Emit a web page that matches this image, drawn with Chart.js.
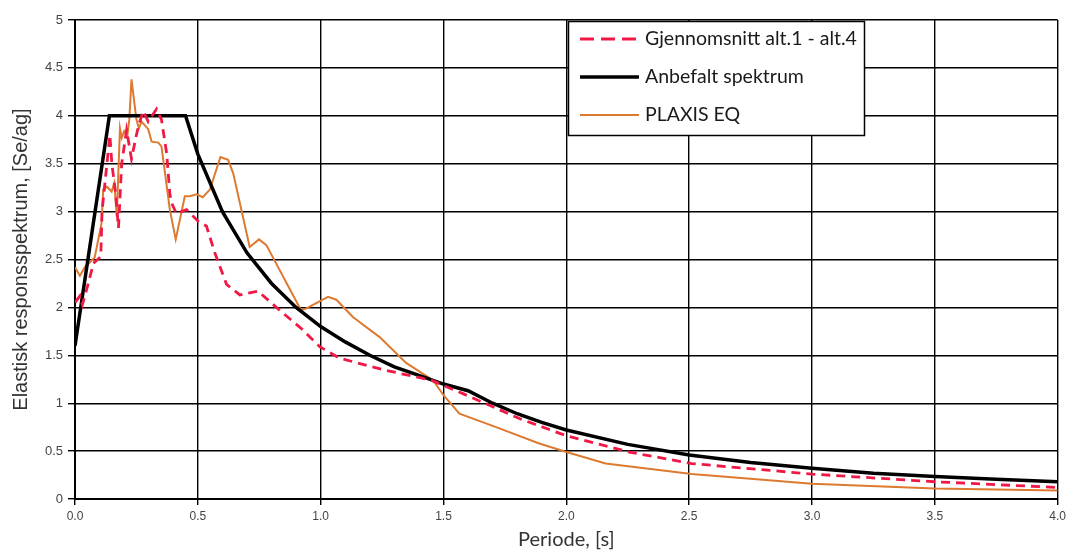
<!DOCTYPE html>
<html>
<head>
<meta charset="utf-8">
<script src="https://cdn.jsdelivr.net/npm/chart.js@4.4.1/dist/chart.umd.min.js"></script>
<style>
  html, body { margin: 0; padding: 0; background: #fff; }
  #wrap { width: 1070px; height: 552px; position: relative; }
</style>
</head>
<body>
<div id="wrap"><canvas id="myChart"></canvas></div>
<script>
// series labels
const seriesNames = ['Gjennomsnitt alt.1 - alt.4', 'Anbefalt spektrum', 'PLAXIS EQ'];

// Gjennomsnitt alt.1 - alt.4 (red dashed)
const periodAvg = [0, 0.02, 0.03, 0.054, 0.075, 0.105, 0.11, 0.142, 0.15, 0.165, 0.177, 0.19, 0.21, 0.23, 0.25, 0.26, 0.278, 0.298, 0.332, 0.352, 0.373, 0.386, 0.393, 0.413, 0.454, 0.501, 0.535, 0.569, 0.617, 0.671, 0.745, 0.833, 0.921, 0.996, 1.077, 1.253, 1.45, 1.579, 1.809, 2.0, 2.256, 2.51, 3.0, 3.5, 4.0];
const avgValues = [2.05, 2.12, 2.03, 2.25, 2.46, 2.53, 3.0, 3.8, 3.5, 3.2, 2.83, 3.5, 3.85, 3.55, 3.8, 3.91, 4.05, 3.94, 4.07, 3.96, 3.61, 3.19, 3.09, 2.98, 3.02, 2.9, 2.85, 2.57, 2.24, 2.13, 2.17, 1.97, 1.78, 1.59, 1.47, 1.35, 1.24, 1.1, 0.84, 0.66, 0.49, 0.37, 0.26, 0.18, 0.12];

// Anbefalt spektrum (black)
const periodRec = [0, 0.14, 0.45, 0.5, 0.6, 0.7, 0.8, 0.9, 1.0, 1.1, 1.2, 1.3, 1.4, 1.5, 1.6, 1.7, 1.8, 1.9, 2.0, 2.25, 2.5, 2.75, 3.0, 3.25, 3.5, 3.75, 4.0];
const recValues = [1.6, 4.0, 4.0, 3.6, 3.0, 2.57, 2.25, 2.0, 1.8, 1.64, 1.5, 1.38, 1.29, 1.2, 1.13, 1.0, 0.89, 0.8, 0.72, 0.57, 0.46, 0.38, 0.32, 0.27, 0.235, 0.205, 0.18];

// PLAXIS EQ (orange)
const periodPlaxis = [0, 0.02, 0.04, 0.08, 0.108, 0.115, 0.13, 0.149, 0.16, 0.17, 0.183, 0.19, 0.2, 0.213, 0.221, 0.23, 0.25, 0.26, 0.271, 0.298, 0.312, 0.339, 0.352, 0.386, 0.41, 0.447, 0.467, 0.495, 0.52, 0.549, 0.592, 0.623, 0.644, 0.711, 0.749, 0.779, 0.92, 0.942, 1.03, 1.064, 1.131, 1.24, 1.348, 1.457, 1.504, 1.565, 1.714, 1.89, 2.0, 2.16, 2.51, 3.0, 3.5, 4.0];
const plaxisValues = [2.42, 2.33, 2.42, 2.52, 2.88, 3.23, 3.26, 3.21, 3.3, 2.95, 3.87, 3.77, 3.84, 3.79, 3.96, 4.38, 3.96, 3.87, 3.94, 3.86, 3.73, 3.72, 3.68, 3.02, 2.71, 3.16, 3.16, 3.18, 3.15, 3.23, 3.57, 3.54, 3.4, 2.63, 2.71, 2.65, 1.97, 1.99, 2.11, 2.08, 1.9, 1.69, 1.42, 1.24, 1.07, 0.89, 0.75, 0.58, 0.49, 0.37, 0.26, 0.16, 0.11, 0.09];

// tick labels
const xTickLabels = ['0.0', '0.5', '1.0', '1.5', '2.0', '2.5', '3.0', '3.5', '4.0'];
const yTickLabels = ['0', '0.5', '1', '1.5', '2', '2.5', '3', '3.5', '4', '4.5', '5'];

function toPoints(xs, ys){
    var pts = [];
    for(let i=0; i<xs.length; i++){
        pts.push({x: xs[i], y: ys[i]});
    }
    return pts;
}

// legend drawn as a boxed panel inside the plot, like the original
const boxLegend = {
    id: 'boxLegend',
    afterDraw(chart){
        const ctx = chart.ctx;
        const left = 568.5, top = 21.5, w = 296, h = 114;
        ctx.save();
        ctx.fillStyle = '#fff';
        ctx.fillRect(left, top, w, h);
        ctx.strokeStyle = '#000';
        ctx.lineWidth = 1.5;
        ctx.strokeRect(left, top, w, h);
        const rows = [39, 77, 115];
        chart.data.datasets.forEach((ds, i) => {
            const y = rows[i];
            ctx.beginPath();
            ctx.strokeStyle = ds.borderColor;
            ctx.lineWidth = ds.borderWidth;
            ctx.setLineDash(ds.borderDash ? [14, 7] : []);
            ctx.moveTo(580, y);
            ctx.lineTo(639, y);
            ctx.stroke();
            ctx.setLineDash([]);
            ctx.fillStyle = '#1a1a1a';
            ctx.font = '19.5px Lato, "Open Sans", sans-serif';
            ctx.textBaseline = 'middle';
            ctx.fillText(ds.label, 645, y);
        });
        ctx.restore();
    }
};

const ctx = document.getElementById('myChart').getContext('2d');
window.myChart = new Chart(ctx, {
    type: 'scatter',
    data: {
        datasets: [{
            label: seriesNames[0],
            data: toPoints(periodAvg, avgValues),
            showLine: true,
            borderColor: '#f01844',
            borderWidth: 2.8,
            borderDash: [9, 6],
            pointRadius: 0,
            fill: false,
        }, {
            label: seriesNames[1],
            data: toPoints(periodRec, recValues),
            showLine: true,
            borderColor: '#000000',
            borderWidth: 3.5,
            pointRadius: 0,
            fill: false,
        }, {
            label: seriesNames[2],
            data: toPoints(periodPlaxis, plaxisValues),
            showLine: true,
            borderColor: '#dd7a30',
            borderWidth: 2,
            pointRadius: 0,
            fill: false,
        }]
    },
    options: {
        responsive: true,
        maintainAspectRatio: false,
        animation: false,
        layout: { padding: { left: 9, top: 20, right: 11, bottom: 0 } },
        plugins: {
            legend: { display: false },
            tooltip: { enabled: false },
        },
        scales: {
            x: {
                type: 'linear',
                min: 0, max: 4,
                ticks: {
                    stepSize: 0.5,
                    color: '#444',
                    font: { family: '"Liberation Sans", Arial, sans-serif', size: 12 },
                    padding: 4,
                    maxRotation: 0,
                    callback: (v, i) => xTickLabels[i],
                },
                grid: { color: '#000', lineWidth: 1.4, tickLength: 6, tickColor: '#000' },
                border: { color: '#000', width: 2 },
                title: {
                    display: true,
                    text: 'Periode, [s]',
                    color: '#333',
                    font: { family: 'Lato, "Open Sans", sans-serif', size: 20 },
                    padding: { top: 2, bottom: 0 },
                },
                afterFit: s => { s.height = 53; },
            },
            y: {
                min: 0, max: 5,
                ticks: {
                    stepSize: 0.5,
                    color: '#444',
                    font: { family: '"Liberation Sans", Arial, sans-serif', size: 13 },
                    padding: 5,
                    callback: (v, i) => yTickLabels[i],
                },
                grid: { color: '#000', lineWidth: 1.4, tickLength: 7, tickColor: '#000' },
                border: { color: '#000', width: 2 },
                title: {
                    display: true,
                    text: 'Elastisk responsspektrum, [Se/ag]',
                    color: '#333',
                    font: { family: '"Liberation Sans", Arial, sans-serif', size: 20 },
                    padding: { top: 0, bottom: 3 },
                },
                afterFit: s => { s.width = 66; },
            }
        }
    },
    plugins: [boxLegend]
});
</script>
</body>
</html>
